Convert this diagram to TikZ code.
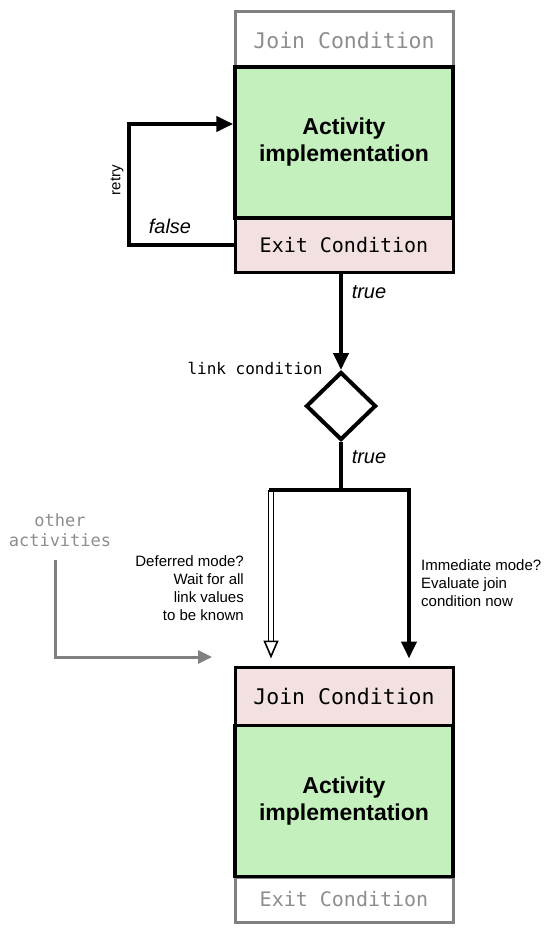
\documentclass[tikz,border=0pt]{standalone}
\usepackage{fontspec}
\setmainfont{Liberation Sans}
\newfontfamily\mono{DejaVu Sans Mono}
\usetikzlibrary{arrows.meta,shapes.geometric}
\definecolor{actgreen}{HTML}{C3F0BC}
\definecolor{condpink}{HTML}{F3E1E1}
\definecolor{ghostgray}{HTML}{808080}
\newcommand{\condfont}{\mono\fontsize{20}{24}\selectfont}
\newcommand{\joinfont}{\mono\fontsize{21.5}{24}\selectfont}
\newcommand{\actfont}{\bfseries\fontsize{23}{27}\selectfont}
\newcommand{\notefont}{\fontsize{15}{18}\selectfont}
\newcommand{\truefont}{\itshape\fontsize{20}{24}\selectfont}

\begin{document}
\begin{tikzpicture}[x=1pt,y=-1pt,>={Triangle[length=17pt,width=15pt]},
  condbox/.style={draw,line width=3pt,minimum width=218pt,inner sep=0pt,font=\condfont},
  ghostbox/.style={condbox,draw=ghostgray,text=ghostgray!90},
  actbox/.style={draw,line width=3.5pt,fill=actgreen,minimum width=218pt,
    minimum height=151pt,align=center,font=\actfont},
  flow/.style={line width=4pt},
  note/.style={font=\notefont,inner sep=0pt}]
\useasboundingbox (0,0) rectangle (555,932);
% upper activity
\node[ghostbox,minimum height=57pt,font=\joinfont] (join1) at (344,40) {Join Condition};
\node[actbox] (act1) at (344,142.5) {Activity\\implementation};
\node[condbox,fill=condpink,minimum height=54pt] (exit1) at (344,245) {Exit Condition};
% retry loop
\coordinate (loop) at (129,124);
\draw[flow,->] (exit1.west) -| (loop) -- (act1.west |- loop);
\node[note,rotate=90] (retry) at (117,180) {retry};
\node[font=\truefont,inner sep=0pt] (false) at (170,226) {false};
% link condition
\node[diamond,draw,line width=4pt,minimum width=70pt,minimum height=68pt,inner sep=0pt] (link) at (341,406) {};
\draw[flow,->] (link |- exit1.south) -- (link.north);
\node[font=\truefont,inner sep=0pt] (true1) at (369,292) {true};
\node[font=\mono\fontsize{16}{19}\selectfont,inner sep=0pt] (linkc) at (255,368) {link condition};
\coordinate (split) at (341,490);
\coordinate (defl) at (271,490);
\coordinate (imml) at (409,490);
\draw[flow] (link.south) -- (split);
\node[font=\truefont,inner sep=0pt] (true2) at (369,457) {true};
% lower activity
\node[ghostbox,minimum height=45pt] (exit2) at (344,899.5) {Exit Condition};
\node[actbox] (act2) at (344,801) {Activity\\implementation};
\node[condbox,fill=condpink,minimum height=58pt,font=\joinfont] (join2) at (344,696) {Join Condition};
% deferred and immediate
\draw[line width=1.6pt,double=white,double distance=3.2pt,
  -{Triangle[open,length=18pt,width=15pt]},shorten >=7pt] (defl) -- (defl |- join2.north);
\draw[flow,line cap=rect] (defl) -- (imml);
\draw[flow,->,shorten >=7pt] (imml) -- (imml |- join2.north);
\node[note,align=right,anchor=north east] (defer) at (244,555)
  {Deferred mode?\\Wait for all\\link values\\to be known};
\node[note,align=left,anchor=north west] (immed) at (421,559)
  {Immediate mode?\\Evaluate join\\condition now};
% other activities
\node[font=\mono\fontsize{17}{20}\selectfont,text=ghostgray!90,align=center,inner sep=0pt] (other) at (60,530) {other\\activities};
\coordinate (othstart) at (55,560);
\coordinate (othend) at (212,657);
\draw[line width=3pt,ghostgray,-{Triangle[length=14pt,width=13pt]}] (othstart) |- (othend);
\end{tikzpicture}
\end{document}
